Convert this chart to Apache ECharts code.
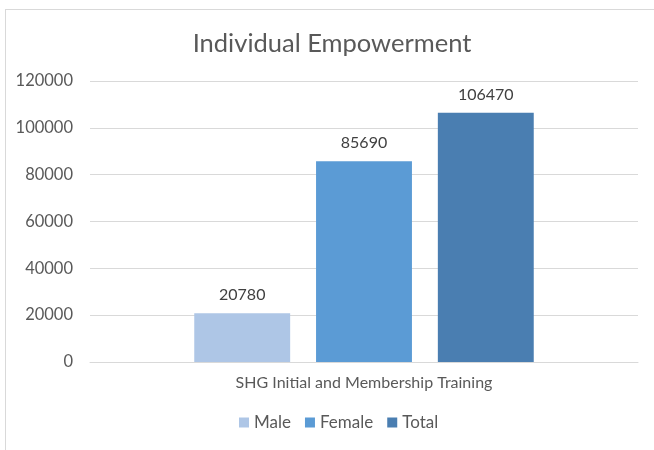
<!DOCTYPE html>
<html>
<head>
<meta charset="utf-8">
<script src="https://cdn.jsdelivr.net/npm/echarts@6/dist/echarts.min.js"></script>
<style>
  html, body { margin: 0; padding: 0; background: #fff; overflow: hidden; }
  #frame { position: absolute; left: 5px; top: 9px; width: 700px; height: 500px; border: 1px solid #d9d9d9; }
  #chart { position: absolute; left: 5px; top: 0; width: 654px; height: 450px; }
</style>
</head>
<body>
<div id="frame"></div>
<div id="chart"></div>
<script>
var categories = ['SHG Initial and Membership Training'];
var seriesNames = ['Male', 'Female', 'Total'];
var maleValues = [20780];
var femaleValues = [85690];
var totalValues = [106470];
var colors = ['#aec6e6', '#5b9bd5', '#4a7eb1'];

var font = 'Lato, "Open Sans", sans-serif';

function makeBar(name, data, color) {
    return {
        name: name,
        type: 'bar',
        data: data,
        barWidth: '17.5%',
        barGap: '27%',
        itemStyle: { color: color },
        label: {
            show: true,
            position: 'top',
            distance: 10,
            color: '#404040',
            fontSize: 16,
            fontFamily: font
        }
    };
}

var chart = echarts.init(document.getElementById('chart'));
chart.setOption({
    animation: false,
    title: {
        text: 'Individual Empowerment',
        left: 'center',
        top: 26,
        textStyle: { color: '#595959', fontSize: 25.5, fontWeight: 'normal', fontFamily: font }
    },
    grid: { left: 85, right: 21, top: 81, bottom: 88 },
    legend: {
        bottom: 14,
        left: 229,
        itemWidth: 10,
        itemHeight: 10,
        itemGap: 14,
        icon: 'rect',
        textStyle: { color: '#595959', fontSize: 17, fontFamily: font },
        data: seriesNames
    },
    xAxis: {
        type: 'category',
        data: categories,
        axisLine: { lineStyle: { color: '#d9d9d9' } },
        axisTick: { show: false },
        axisLabel: { color: '#595959', fontSize: 16, fontFamily: font, margin: 13 }
    },
    yAxis: {
        type: 'value',
        min: 0,
        max: 120000,
        interval: 20000,
        axisLine: { show: false },
        axisTick: { show: false },
        splitLine: { lineStyle: { color: '#d9d9d9' } },
        axisLabel: {
            color: '#595959', fontSize: 16.5, fontFamily: font, margin: 17,
            formatter: function (v) { return String(v); }
        }
    },
    series: [
        makeBar(seriesNames[0], maleValues, colors[0]),
        makeBar(seriesNames[1], femaleValues, colors[1]),
        makeBar(seriesNames[2], totalValues, colors[2])
    ]
});
</script>
</body>
</html>
